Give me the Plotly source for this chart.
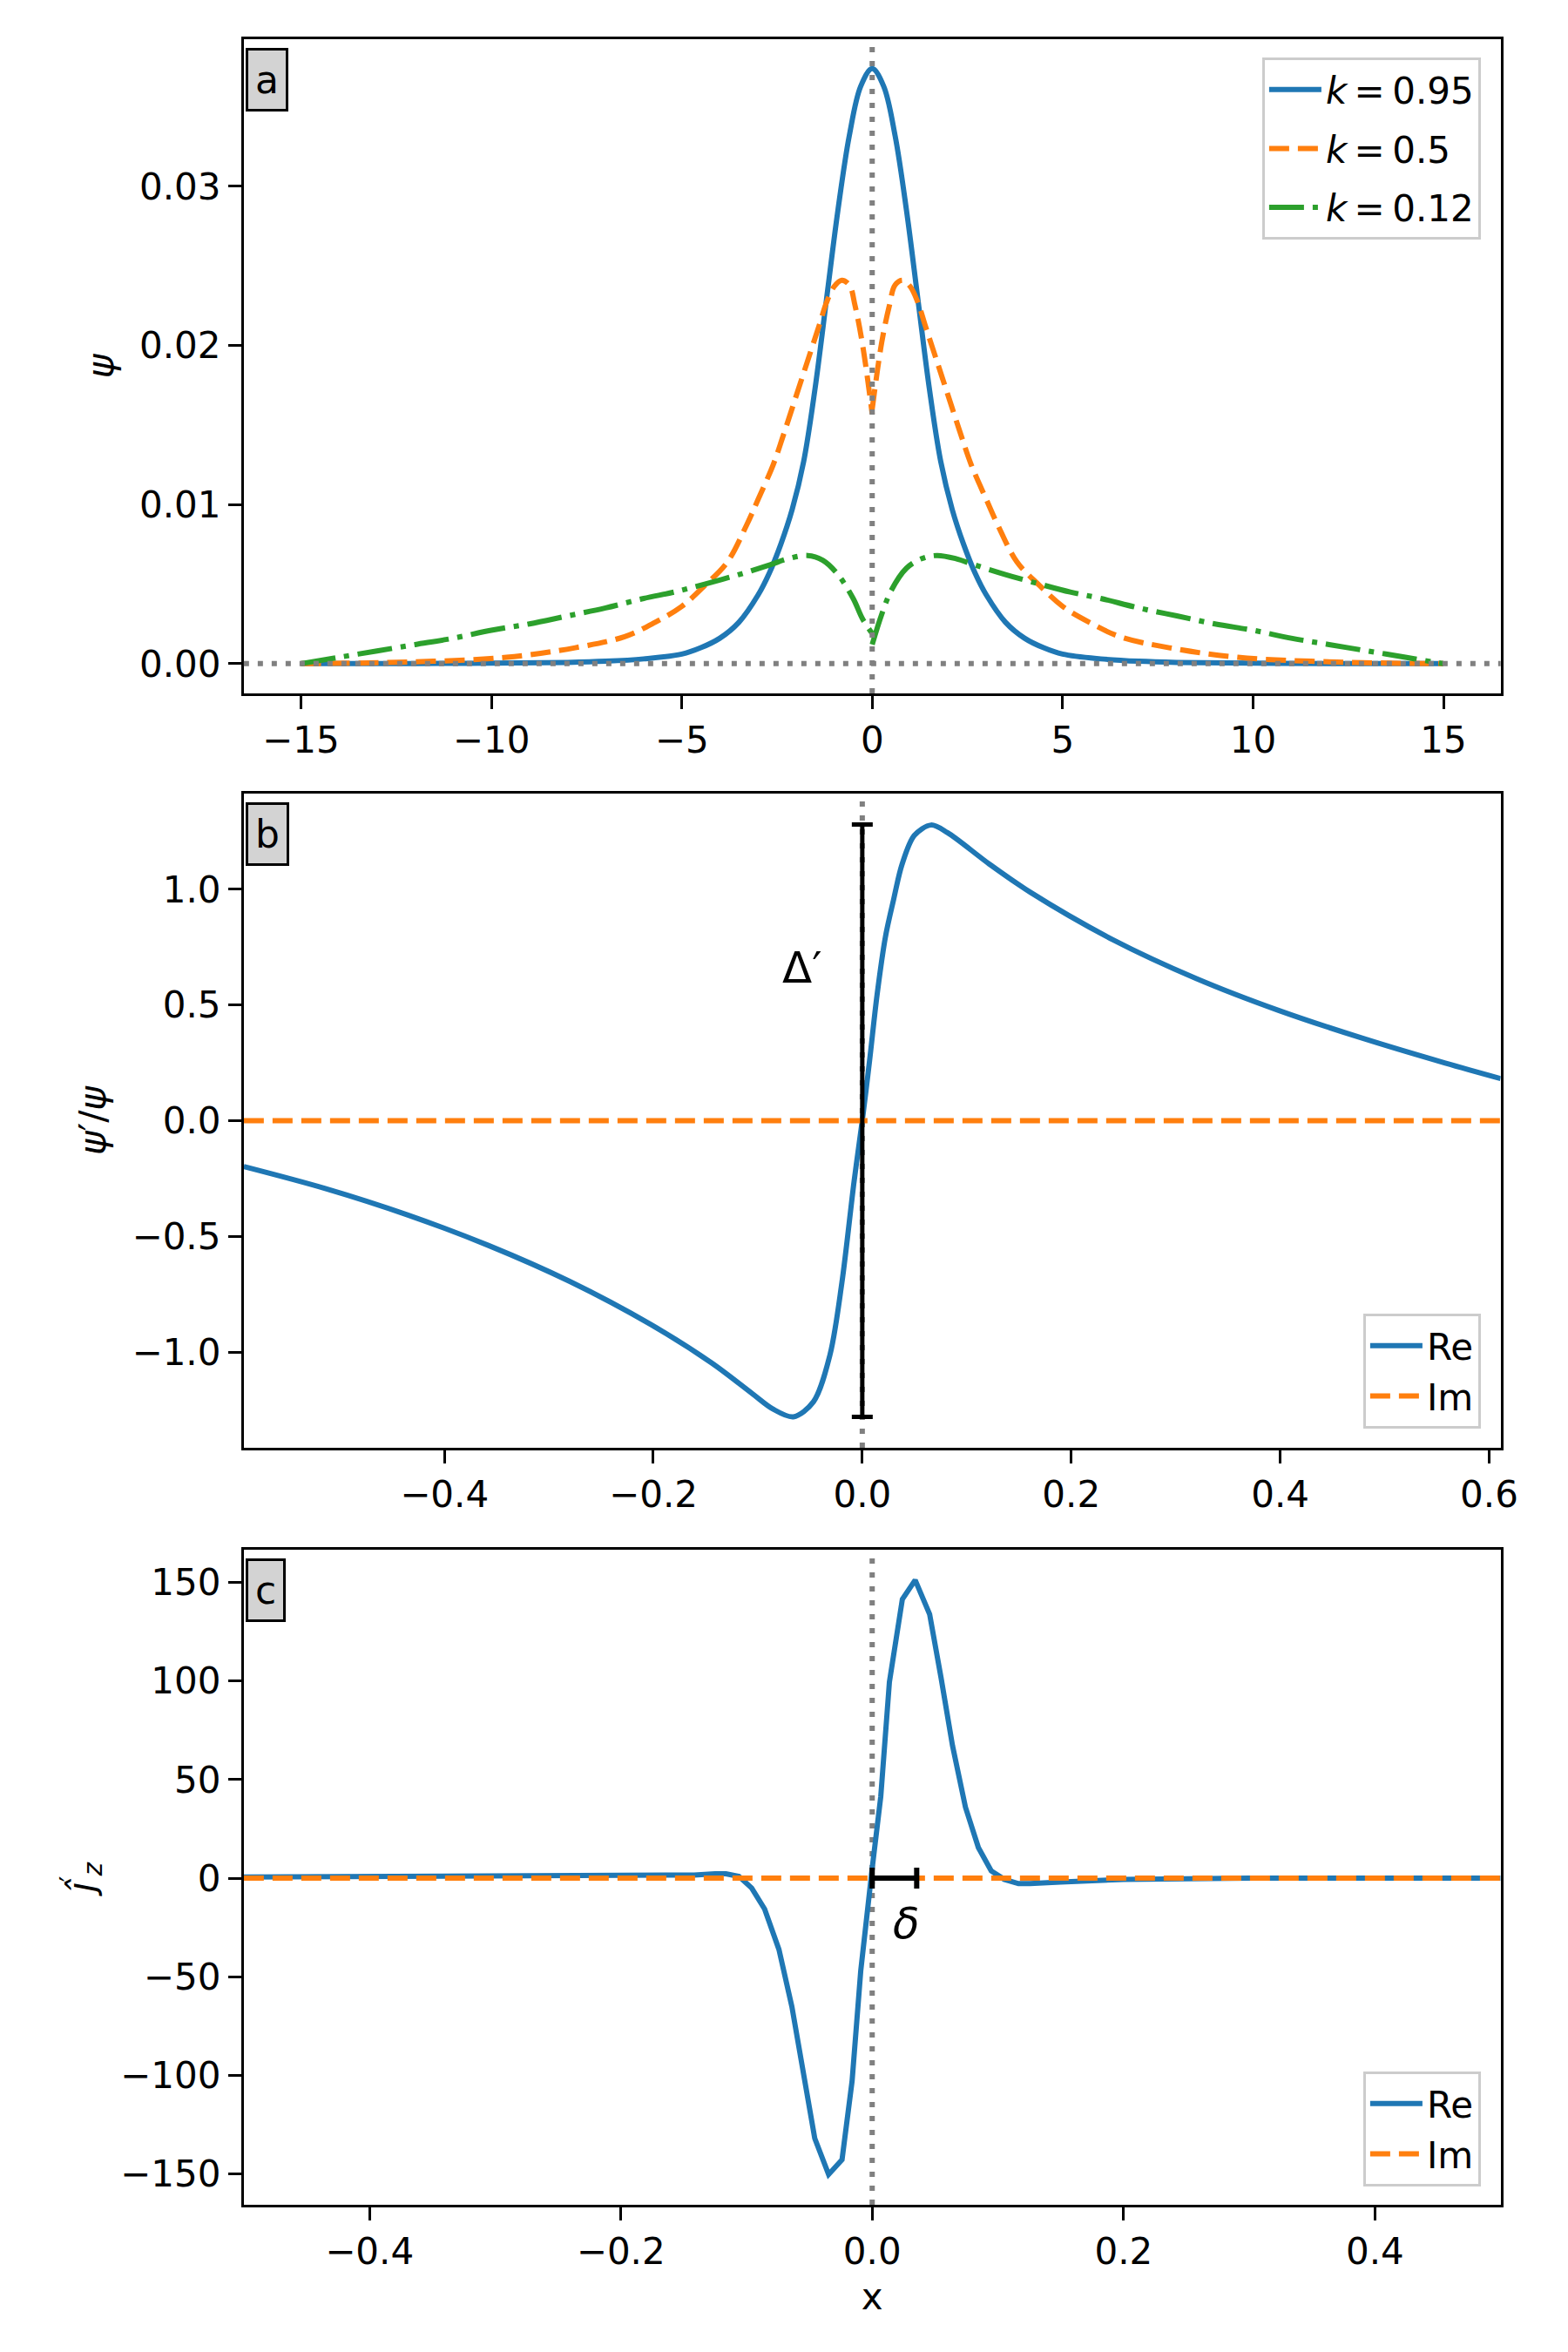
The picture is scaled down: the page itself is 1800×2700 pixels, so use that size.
import plotly.graph_objects as go

# ---------------- Panel a data ----------------
a_x_k095 = [-15, -12, -10, -8, -7, -6, -5, -4.5, -4, -3.5, -3, -2.7, -2.4, -2.1, -1.8, -1.5, -1.2,
            -0.9, -0.6, -0.3, 0, 0.3, 0.6, 0.9, 1.2, 1.5, 1.8, 2.1, 2.4, 2.7, 3, 3.5, 4, 4.5, 5,
            6, 7, 8, 10, 12, 15]
a_psi_k095 = [0, 0.00001, 0.00003, 0.00008, 0.00015, 0.0003, 0.0006, 0.0010, 0.0016, 0.0026, 0.0043,
              0.0057, 0.0075, 0.0097, 0.0127, 0.0173, 0.0229, 0.0285, 0.0332, 0.0363, 0.0374,
              0.0363, 0.0332, 0.0285, 0.0229, 0.0173, 0.0127, 0.0097, 0.0075, 0.0057, 0.0043,
              0.0026, 0.0016, 0.0010, 0.0006, 0.0003, 0.00015, 0.00008, 0.00003, 0.00001, 0]

a_x_k05_left = [-15, -12.2, -9.6, -7.8, -6.5, -5.7, -5.0, -4.4, -3.8, -3.3, -3.0, -2.6, -2.3, -2.0,
                -1.7, -1.4, -1.2, -1.0, -0.8, -0.6, -0.45, -0.25, 0]
a_psi_k05_left = [0, 0.0001, 0.0004, 0.0010, 0.0017, 0.0026, 0.0036, 0.0049, 0.0064, 0.0087, 0.0103,
                  0.0125, 0.0146, 0.0168, 0.0190, 0.0212, 0.0227, 0.0237, 0.0241, 0.0238, 0.0225,
                  0.0200, 0.0157]
a_x_k05_right = [0, 0.25, 0.45, 0.6, 0.8, 1.0, 1.2, 1.4, 1.7, 2.0, 2.3, 2.6, 3.0, 3.3, 3.8, 4.4,
                 5.0, 5.7, 6.5, 7.8, 9.6, 12.2, 15]
a_psi_k05_right = [0.0160, 0.0202, 0.0225, 0.0238, 0.0241, 0.0237, 0.0227, 0.0212, 0.0190, 0.0168,
                   0.0146, 0.0125, 0.0103, 0.0087, 0.0064, 0.0049, 0.0036, 0.0026, 0.0017, 0.0010,
                   0.0004, 0.0001, 0]

a_x_k012_left = [-15, -14, -13, -12, -11, -10, -9, -8, -7, -6, -5.2, -4.4, -3.5, -2.7, -2.2, -1.7,
                 -1.3, -0.9, -0.5, -0.25, 0]
a_psi_k012_left = [0, 0.0004, 0.0008, 0.0012, 0.0016, 0.0021, 0.0025, 0.0030, 0.0035, 0.0041, 0.0045,
                   0.0050, 0.0056, 0.0062, 0.0066, 0.0068, 0.0065, 0.0056, 0.0041, 0.0028, 0.0019]
a_x_k012_right = [0, 0.25, 0.5, 0.9, 1.3, 1.7, 2.2, 2.7, 3.5, 4.4, 5.2, 6, 7, 8, 9, 10, 11, 12, 13,
                  14, 15]
a_psi_k012_right = [0.0012, 0.0031, 0.0046, 0.0060, 0.0066, 0.0068, 0.0066, 0.0062, 0.0056, 0.0050,
                    0.0045, 0.0041, 0.0035, 0.0030, 0.0025, 0.0021, 0.0016, 0.0012, 0.0008, 0.0004, 0]

a_names = ["<i>k</i>\u2009=\u20090.95", "<i>k</i>\u2009=\u20090.5", "<i>k</i>\u2009=\u20090.12"]

# ---------------- Panel b data ----------------
b_x = [-0.592, -0.514, -0.436, -0.358, -0.280, -0.2025, -0.144, -0.105, -0.0857, -0.066, -0.0467,
       -0.031, -0.0195, -0.0078, 0, 0.007, 0.0141, 0.0221, 0.030, 0.038, 0.0498, 0.0658, 0.0816,
       0.1214, 0.161, 0.240, 0.320, 0.399, 0.479, 0.558, 0.611]
b_re = [-0.198, -0.293, -0.406, -0.539, -0.695, -0.881, -1.048, -1.181, -1.246, -1.280, -1.215,
        -1.014, -0.700, -0.261, 0, 0.26, 0.542, 0.793, 0.956, 1.107, 1.233, 1.278, 1.245,
        1.110, 0.987, 0.782, 0.614, 0.476, 0.356, 0.249, 0.182]
b_im = [0.0] * len(b_x)
b_delta_prime = 1.28

# ---------------- Panel c data ----------------
c_x = [-0.5, -0.4, -0.3, -0.2, -0.1416, -0.125, -0.1164, -0.106, -0.0959, -0.0856, -0.0742, -0.0639,
       -0.0548, -0.0457, -0.0347, -0.024, -0.016, -0.0091, 0.0, 0.0068, 0.0137, 0.024, 0.0342,
       0.0457, 0.0548, 0.0639, 0.0742, 0.0845, 0.0947, 0.105, 0.1164, 0.1256, 0.15, 0.2, 0.3, 0.4, 0.5]
c_re = [0.6, 0.7, 0.9, 1.3, 1.6, 2.2, 2.2, 0.9, -5.0, -15.7, -36.2, -65.2, -98.6, -132.0, -150.3,
        -142.8, -102.9, -46.9, 5.0, 41.3, 99.5, 141.5, 151.2, 133.9, 101.6, 67.2, 36.0, 15.5, 3.7,
        -0.6, -2.8, -2.8, -2.0, -0.6, 0.0, 0.0, 0.0]
c_im = [0.0] * len(c_x)
c_delta = 0.0354

BLUE, ORANGE, GREEN = "#1f77b4", "#ff7f0e", "#2ca02c"
LW = 6
DASH = "23px,10px"
DASHDOT = "40px,10px,6px,10px"
DOT = "6px,10px"
FONT = "DejaVu Sans"
FS = 42

fig = go.Figure()

# Panel a
fig.add_trace(go.Scatter(x=a_x_k095, y=a_psi_k095, mode="lines", name=a_names[0],
                         line=dict(color=BLUE, width=LW, shape="spline"),
                         xaxis="x", yaxis="y", legend="legend", legendgroup="a1"))
fig.add_trace(go.Scatter(x=a_x_k05_left, y=a_psi_k05_left, mode="lines", name=a_names[1],
                         line=dict(color=ORANGE, width=LW, dash=DASH, shape="spline"),
                         xaxis="x", yaxis="y", legend="legend", legendgroup="a2"))
fig.add_trace(go.Scatter(x=a_x_k05_right, y=a_psi_k05_right, mode="lines", name=a_names[1],
                         line=dict(color=ORANGE, width=LW, dash=DASH, shape="spline"),
                         xaxis="x", yaxis="y", legend="legend", legendgroup="a2", showlegend=False))
fig.add_trace(go.Scatter(x=a_x_k012_left, y=a_psi_k012_left, mode="lines", name=a_names[2],
                         line=dict(color=GREEN, width=LW, dash=DASHDOT, shape="spline"),
                         xaxis="x", yaxis="y", legend="legend", legendgroup="a3"))
fig.add_trace(go.Scatter(x=a_x_k012_right, y=a_psi_k012_right, mode="lines", name=a_names[2],
                         line=dict(color=GREEN, width=LW, dash=DASHDOT, shape="spline"),
                         xaxis="x", yaxis="y", legend="legend", legendgroup="a3", showlegend=False))

# Panel b
fig.add_trace(go.Scatter(x=b_x, y=b_re, mode="lines", name="Re",
                         line=dict(color=BLUE, width=LW, shape="spline", smoothing=0.9),
                         xaxis="x2", yaxis="y2", legend="legend2"))
fig.add_trace(go.Scatter(x=b_x, y=b_im, mode="lines", name="Im",
                         line=dict(color=ORANGE, width=LW, dash=DASH),
                         xaxis="x2", yaxis="y2", legend="legend2"))
fig.add_trace(go.Scatter(x=[0], y=[0], mode="markers", marker=dict(size=1, color="black", opacity=0),
                         error_y=dict(type="data", array=[b_delta_prime], color="black",
                                      thickness=5, width=12),
                         xaxis="x2", yaxis="y2", showlegend=False, hoverinfo="skip"))

# Panel c
fig.add_trace(go.Scatter(x=c_x, y=c_re, mode="lines", name="Re",
                         line=dict(color=BLUE, width=LW),
                         xaxis="x3", yaxis="y3", legend="legend3"))
fig.add_trace(go.Scatter(x=c_x, y=c_im, mode="lines", name="Im",
                         line=dict(color=ORANGE, width=LW, dash=DASH),
                         xaxis="x3", yaxis="y3", legend="legend3"))
fig.add_trace(go.Scatter(x=[c_delta / 2], y=[0], mode="markers",
                         marker=dict(size=1, color="black", opacity=0),
                         error_x=dict(type="data", array=[c_delta / 2], color="black",
                                      thickness=6, width=12),
                         xaxis="x3", yaxis="y3", showlegend=False, hoverinfo="skip"))

W, H = 1800, 2700
XD = [283 / W, 1742 / W]
YD_A = [1 - 796 / H, 1 - 45 / H]
YD_B = [1 - 1662 / H, 1 - 911 / H]
YD_C = [1 - 2531 / H, 1 - 1779 / H]

axis_common = dict(showline=True, mirror=True, linecolor="black", linewidth=3,
                   ticks="outside", ticklen=15, tickwidth=3, tickcolor="black",
                   showgrid=False, zeroline=False,
                   tickfont=dict(family=FONT, size=FS, color="black"))

legend_common = dict(bgcolor="rgba(255,255,255,0.8)", bordercolor="#cccccc", borderwidth=3,
                     font=dict(family=FONT, size=FS, color="black"), itemwidth=60)

fig.update_layout(
    width=W, height=H,
    margin=dict(l=0, r=0, t=0, b=0),
    paper_bgcolor="white", plot_bgcolor="white",
    font=dict(family=FONT, size=FS, color="black"),
    xaxis=dict(domain=XD, anchor="y", range=[-16.5, 16.5], tick0=0, dtick=5, **axis_common),
    yaxis=dict(domain=YD_A, anchor="x", range=[-0.00187, 0.03925], tick0=0, dtick=0.01,
               tickformat=".2f", title=dict(text="<i>ψ</i>", standoff=17,
                                             font=dict(family=FONT, size=FS)),
               **axis_common),
    xaxis2=dict(domain=XD, anchor="y2", range=[-0.592, 0.611], tick0=0, dtick=0.2,
                tickformat=".1f", **axis_common),
    yaxis2=dict(domain=YD_B, anchor="x2", range=[-1.414, 1.414], tick0=0, dtick=0.5,
                tickformat=".1f", title=dict(text="<i>ψ</i>′/<i>ψ</i>", standoff=17,
                                              font=dict(family=FONT, size=FS)),
                **axis_common),
    xaxis3=dict(domain=XD, anchor="y3", range=[-0.5, 0.5], tick0=0, dtick=0.2,
                tickformat=".1f", title=dict(text="x", standoff=14,
                                              font=dict(family=FONT, size=FS)),
                **axis_common),
    yaxis3=dict(domain=YD_C, anchor="x3", range=[-165.7, 166.6], tick0=0, dtick=50,
                title=dict(text="<i>ĵ</i><sup>′</sup><sub><i>z</i></sub>", standoff=17,
                           font=dict(family=FONT, size=FS)),
                **axis_common),
    legend=dict(x=1719 / W, xanchor="right", y=1 - 66 / H, yanchor="top", **legend_common),
    legend2=dict(x=1719 / W, xanchor="right", y=1 - 1640 / H, yanchor="bottom", **legend_common),
    legend3=dict(x=1719 / W, xanchor="right", y=1 - 2510 / H, yanchor="bottom", **legend_common),
)

# Reference dotted lines
dot_line = dict(color="gray", width=6, dash=DOT)
fig.add_shape(type="line", xref="x", yref="y domain", x0=0, x1=0, y0=0, y1=1,
              line=dot_line, layer="above")
fig.add_shape(type="line", xref="x domain", yref="y", x0=0, x1=1, y0=0, y1=0,
              line=dot_line, layer="above")
fig.add_shape(type="line", xref="x2", yref="y2 domain", x0=0, x1=0, y0=0, y1=1,
              line=dot_line, layer="below")
fig.add_shape(type="line", xref="x3", yref="y3 domain", x0=0, x1=0, y0=0, y1=1,
              line=dot_line, layer="below")

# Panel labels
for lab, xr, yr in [("a", "x domain", "y domain"), ("b", "x2 domain", "y2 domain"),
                    ("c", "x3 domain", "y3 domain")]:
    fig.add_annotation(text=lab, xref=xr, yref=yr, x=0.0015, y=0.987, xanchor="left",
                       yanchor="top", showarrow=False, bgcolor="lightgray", bordercolor="black",
                       borderwidth=3, borderpad=8, font=dict(family=FONT, size=44, color="black"))

fig.add_annotation(text="Δ′", xref="x2", yref="y2", x=-0.057, y=0.66, showarrow=False,
                   font=dict(family=FONT, size=50, color="black"))
fig.add_annotation(text="<i>δ</i>", xref="x3", yref="y3", x=0.0274, y=-23, showarrow=False,
                   font=dict(family=FONT, size=50, color="black"))

fig.write_html("out.html", config={"displayModeBar": False},
               post_script="document.body.style.margin='0';")
